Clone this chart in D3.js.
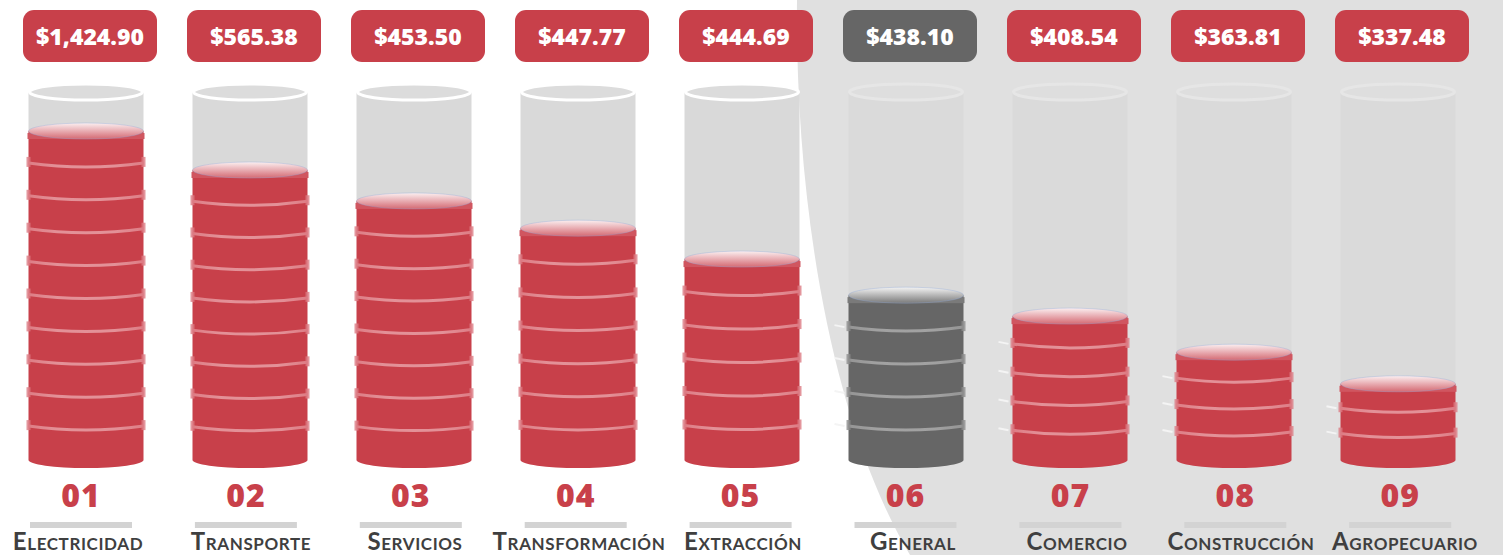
<!DOCTYPE html>
<html><head><meta charset="utf-8">
<script src="https://cdn.jsdelivr.net/npm/d3@7"></script>
<style>
html,body{margin:0;padding:0;background:#fff;}
svg{display:block;}
</style></head>
<body>
<svg id="chart" width="1503" height="555"></svg>
<script>
const codes = ["01","02","03","04","05","06","07","08","09"];
const categories = ["Electricidad","Transporte","Servicios","Transformación","Extracción","General","Comercio","Construcción","Agropecuario"];
const values = [1424.90, 565.38, 453.50, 447.77, 444.69, 438.10, 408.54, 363.81, 337.48];
// visual fill level of each cylinder (percent of its height)
const fillLevels = [89.4, 78.8, 70.4, 63.0, 54.6, 44.8, 39.1, 29.3, 20.7];
const highlight = ["General"];

const W = 1503, H = 555;
const RED = "#c8404a", GREY = "#666666";
const svg = d3.select("#chart");
const defs = svg.append("defs");

// shaded background region
svg.append("path")
  .attr("d", "M797,0 C795,200 830,420 910,555 L1503,555 L1503,0 Z")
  .attr("fill", "#e0e0e0");

const x = d3.scalePoint().domain(categories).range([86, 1398]);
const cylTop = 92, cylBottom = 460;
const y = d3.scaleLinear().domain([0, 100]).range([cylBottom, cylTop]);
const cw = 115, rx = cw / 2, ry = 8;
const fmt = d3.format("$,.2f");

function topGrad(id, c1, c2, c3) {
  const g = defs.append("linearGradient").attr("id", id).attr("x1", 0).attr("y1", 0).attr("x2", 0).attr("y2", 1);
  g.append("stop").attr("offset", "0%").attr("stop-color", c1);
  g.append("stop").attr("offset", "45%").attr("stop-color", c2);
  g.append("stop").attr("offset", "100%").attr("stop-color", c3);
}
topGrad("topRed", "#fbeff0", "#eab3b8", "#d46a73");
topGrad("topGrey", "#f4f4f4", "#bdbdbd", "#7a7a7a");
function ringGrad(id, edge, mid) {
  const g = defs.append("linearGradient").attr("id", id).attr("x1", 0).attr("y1", 0).attr("x2", 1).attr("y2", 0);
  g.append("stop").attr("offset", "0%").attr("stop-color", edge);
  g.append("stop").attr("offset", "25%").attr("stop-color", mid);
  g.append("stop").attr("offset", "75%").attr("stop-color", mid);
  g.append("stop").attr("offset", "100%").attr("stop-color", edge);
}
ringGrad("ringRed", "#e0848c", "#e69aa0");
ringGrad("ringGrey", "#9a9a9a", "#a8a8a8");

const g = svg.selectAll("g.cyl").data(categories).join("g").attr("class", "cyl");

g.each(function(cat, i) {
  const sel = d3.select(this);
  const cx = x(cat);
  const shaded = cx > 830;
  const isHi = highlight.includes(cat);
  const fillC = isHi ? GREY : RED;
  const left = cx - rx, right = cx + rx;
  const topY = y(fillLevels[i]);

  sel.append("rect").attr("x", left).attr("y", cylTop).attr("width", cw)
    .attr("height", topY - cylTop + 2).attr("fill", shaded ? "#dadada" : "#d9d9d9");
  sel.append("ellipse").attr("cx", cx).attr("cy", cylTop).attr("rx", rx - 1).attr("ry", ry)
    .attr("fill", shaded ? "#dedede" : "#dcdcdc")
    .attr("stroke", shaded ? "#e6e6e6" : "#ffffff").attr("stroke-width", 3);

  sel.append("rect").attr("x", left).attr("y", topY).attr("width", cw)
    .attr("height", cylBottom - topY).attr("fill", fillC);
  sel.append("path")
    .attr("d", `M${left},${cylBottom} A${rx},${ry} 0 0 0 ${right},${cylBottom} Z`)
    .attr("fill", fillC);

  const fh = cylBottom - topY;
  const n = Math.ceil(fh / 34);
  const step = fh / n;
  for (let k = 1; k < n; k++) {
    const ry0 = cylBottom - k * step + 3;
    sel.append("path")
      .attr("d", `M${left},${ry0 - 4} Q${cx},${ry0 + 4} ${right},${ry0 - 4}`)
      .attr("fill", "none").attr("stroke", isHi ? "url(#ringGrey)" : "url(#ringRed)")
      .attr("stroke-width", 3).attr("opacity", 0.9);
    sel.append("rect").attr("x", left - 2).attr("y", ry0 - 10).attr("width", 4).attr("height", 10)
      .attr("fill", isHi ? "#8c8c8c" : "#dc7a83").attr("opacity", 0.8);
    sel.append("rect").attr("x", right - 2).attr("y", ry0 - 10).attr("width", 4).attr("height", 10)
      .attr("fill", isHi ? "#8c8c8c" : "#dc7a83").attr("opacity", 0.8);
    if (shaded) {
      sel.append("line").attr("x1", left - 14).attr("x2", left - 4)
        .attr("y1", ry0 - 6).attr("y2", ry0 - 4)
        .attr("stroke", "#f4f4f4").attr("stroke-width", 2);
    }
  }
  sel.append("rect").attr("x", left - 1).attr("y", topY + 2).attr("width", cw + 2).attr("height", 6)
    .attr("fill", isHi ? "#7a7a7a" : "#d05660");
  sel.append("ellipse").attr("cx", cx).attr("cy", topY).attr("rx", rx).attr("ry", ry)
    .attr("fill", isHi ? "url(#topGrey)" : "url(#topRed)")
    .attr("stroke", "#8fa8d8").attr("stroke-width", 0.6).attr("stroke-opacity", 0.6);

  const bx = cx + 4;
  sel.append("rect").attr("x", bx - 67).attr("y", 10).attr("width", 134).attr("height", 52)
    .attr("rx", 11).attr("fill", isHi ? GREY : RED);
  sel.append("text").attr("x", bx).attr("y", 45).attr("text-anchor", "middle")
    .attr("font-family", "'Open Sans', sans-serif").attr("font-weight", 800)
    .attr("font-size", 23).attr("fill", "#fff").text(fmt(values[i]));

  const lx = cx - 5 + i * 0.9;
  sel.append("text").attr("x", lx).attr("y", 507).attr("text-anchor", "middle")
    .attr("font-family", "'Open Sans', sans-serif").attr("font-weight", 800)
    .attr("font-size", 32).attr("letter-spacing", 1).attr("fill", RED).text(codes[i]);
  sel.append("rect").attr("x", lx - 51).attr("y", 522).attr("width", 102).attr("height", 6)
    .attr("fill", "#d3d3d3");
  sel.append("text").attr("x", cx + (i > 0 ? 1 : -8) + (i >= 5 ? 6 : 0)).attr("y", 550).attr("text-anchor", "middle")
    .attr("font-family", "Lato, 'Open Sans', sans-serif").attr("font-weight", 700)
    .attr("font-size", 24).style("font-variant", "small-caps").attr("letter-spacing", 0.6)
    .attr("fill", "#3f3f3f").text(cat);
});
</script>
</body></html>
